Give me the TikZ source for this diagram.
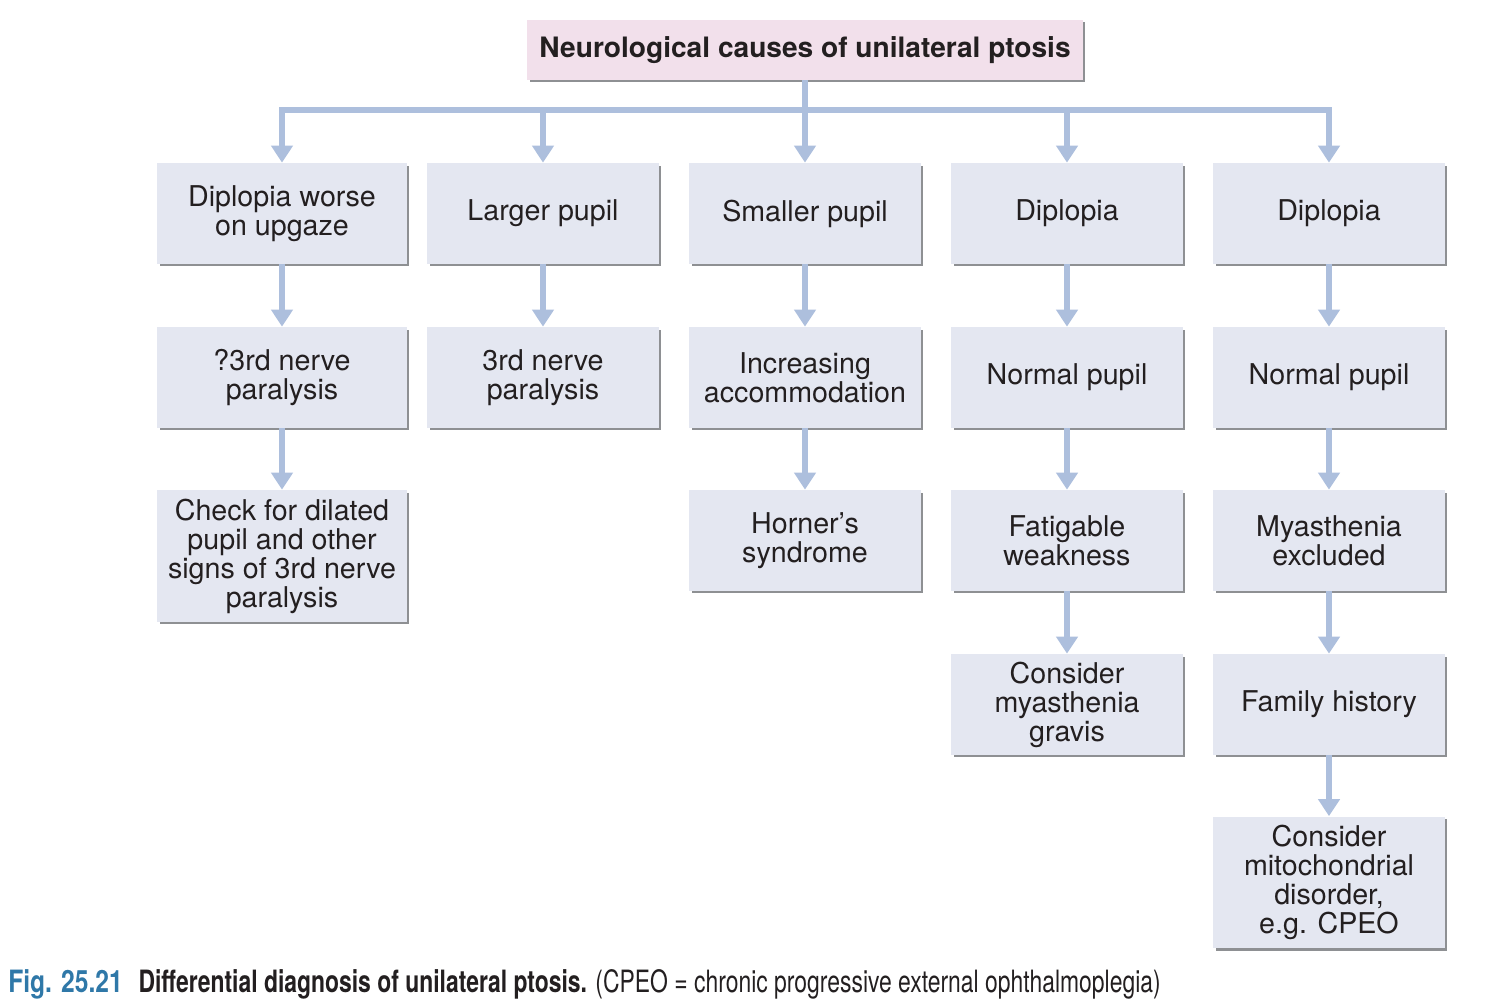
\documentclass[tikz,border=0pt]{standalone}
\usepackage{fontspec}
\setmainfont{TeX Gyre Heros}
\newfontfamily\condfont{TeX Gyre Heros}[FakeStretch=0.745]
\newfontfamily\figfont{TeX Gyre Heros}[FakeStretch=0.8]
\usetikzlibrary{arrows.meta,shadows}
\definecolor{boxfill}{HTML}{E4E7F1}
\definecolor{topfill}{HTML}{F2E0EB}
\definecolor{shadowcol}{HTML}{8E9093}
\definecolor{arrowcol}{HTML}{ADBFDD}
\definecolor{textcol}{HTML}{231F20}
\definecolor{figblue}{HTML}{2F78A8}
\begin{document}
\begin{tikzpicture}[x=0.02cm,y=-0.02cm,
  box/.style={rectangle, fill=boxfill, text=textcol, align=center, inner sep=0pt,
    minimum width=4.64cm, minimum height=2.02cm,
    font=\fontsize{16.3}{16.5}\selectfont,
    drop shadow={shadow xshift=0.05cm, shadow yshift=-0.05cm, fill=shadowcol, opacity=1}},
  widebox/.style={box, minimum width=5cm},
  tallbox/.style={minimum height=2.64cm},
  topbox/.style={box, fill=topfill, minimum width=11.12cm, minimum height=1.2cm,
    font=\fontsize{16}{16.5}\selectfont\bfseries},
  link/.style={draw=arrowcol, line width=0.12cm},
  arrow/.style={link, -{Triangle[width=0.42cm,length=0.34cm]}}
]
\useasboundingbox (0,0) rectangle (1500,1006);

\node[topbox] (top) at (805,50) {Neurological causes of unilateral ptosis};

% column 1
\node[widebox] (a1) at (282,213.5) {Diplopia worse\\on upgaze};
\node[widebox] (a2) at (282,377.5) {?3rd nerve\\paralysis};
\node[widebox,tallbox] (a3) at (282,556) {Check for dilated\\pupil and other\\signs of 3rd nerve\\paralysis};
% column 2
\node[box] (b1) at (543,213.5) {Larger pupil};
\node[box] (b2) at (543,377.5) {3rd nerve\\paralysis};
% column 3
\node[box] (c1) at (805,213.5) {Smaller pupil};
\node[box] (c2) at (805,377.5) {Increasing\\accommodation};
\node[box] (c3) at (805,540.5) {Horner’s\\syndrome};
% column 4
\node[box] (d1) at (1067,213.5) {Diplopia};
\node[box] (d2) at (1067,377.5) {Normal pupil};
\node[box] (d3) at (1067,540.5) {Fatigable\\weakness};
\node[box] (d4) at (1067,704.5) {Consider\\myasthenia\\gravis};
% column 5
\node[box] (e1) at (1329,213.5) {Diplopia};
\node[box] (e2) at (1329,377.5) {Normal pupil};
\node[box] (e3) at (1329,540.5) {Myasthenia\\excluded};
\node[box] (e4) at (1329,704.5) {Family history};
\node[box,tallbox] (e5) at (1329,882.5) {Consider\\mitochondrial\\disorder,\\e.g. CPEO};

% bus
\coordinate (bus) at (805,110);
\draw[link] (top.south) -- (bus);
\draw[arrow] (bus) -| (a1.north);
\draw[arrow] (bus) -| (b1.north);
\draw[arrow] (bus) -- (c1.north);
\draw[arrow] (bus) -| (d1.north);
\draw[arrow] (bus) -| (e1.north);

% vertical arrows
\draw[arrow] (a1.south) -- (a2.north);
\draw[arrow] (a2.south) -- (a3.north);
\draw[arrow] (b1.south) -- (b2.north);
\draw[arrow] (c1.south) -- (c2.north);
\draw[arrow] (c2.south) -- (c3.north);
\draw[arrow] (d1.south) -- (d2.north);
\draw[arrow] (d2.south) -- (d3.north);
\draw[arrow] (d3.south) -- (d4.north);
\draw[arrow] (e1.south) -- (e2.north);
\draw[arrow] (e2.south) -- (e3.north);
\draw[arrow] (e3.south) -- (e4.north);
\draw[arrow] (e4.south) -- (e5.north);

% caption
\node[anchor=base west, inner sep=0pt, text=textcol] (cap) at (8,992)
  {\fontsize{17.5}{20}\selectfont{\figfont\textcolor{figblue}{\bfseries Fig. 25.21}}\hspace{9pt}{\condfont\textbf{Differential diagnosis of unilateral ptosis.} (CPEO = chronic progressive external ophthalmoplegia)}};
\end{tikzpicture}
\end{document}
